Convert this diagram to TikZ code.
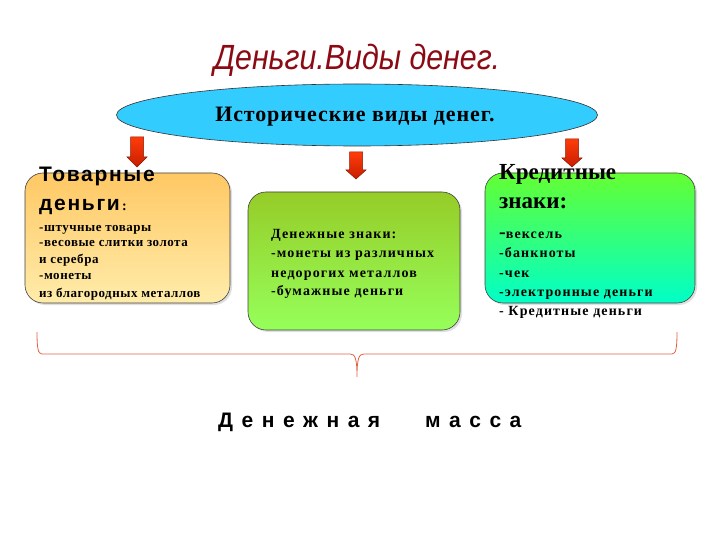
\documentclass[tikz,border=0pt]{standalone}
\usepackage{fontspec}
\usepackage{graphicx}
\setmainfont{Liberation Serif}
\newfontfamily\arialf{Liberation Sans}
\usetikzlibrary{shapes.geometric,shadows}
\definecolor{titlered}{RGB}{140,10,20}
\definecolor{ellblue}{RGB}{51,204,255}
\definecolor{lbtop}{RGB}{255,200,100}
\definecolor{lbbot}{RGB}{255,236,170}
\definecolor{mbtop}{RGB}{150,204,40}
\definecolor{mbbot}{RGB}{150,255,90}
\definecolor{rbtop}{RGB}{100,255,50}
\definecolor{rbbot}{RGB}{0,255,200}
\definecolor{arrred}{RGB}{255,60,10}
\definecolor{arrdark}{RGB}{200,30,0}
\definecolor{bracecol}{RGB}{225,100,70}
\newcommand\lgap{\hspace{8.5pt}}
\newcommand\blockarrow[4]{% x, ytop, yhead, ytip
  \draw[arrowshape] (#1-6.5,#2) -- (#1+6.5,#2) -- (#1+6.5,#3) -- (#1+10,#3)
     -- (#1,#4) -- (#1-10,#3) -- (#1-6.5,#3) -- cycle;}
\tikzset{
  box/.style={draw=black!75, line width=0.6pt, rounded corners=18pt,
     drop shadow={opacity=0.25, shadow xshift=2pt, shadow yshift=-2pt}},
  arrowshape/.style={draw=arrdark!70!black, line width=0.5pt, top color=arrred, bottom color=arrdark},
  small/.style={anchor=base west, inner sep=0pt, font=\fontsize{13}{14}\selectfont\bfseries\addfontfeature{LetterSpace=4}},
  mid/.style={anchor=base west, inner sep=0pt, font=\fontsize{14}{16}\selectfont\bfseries\addfontfeature{LetterSpace=8}},
  head/.style={anchor=base west, inner sep=0pt, font=\fontsize{23}{26}\selectfont\bfseries},
}
\begin{document}
\begin{tikzpicture}[x=1pt,y=-1pt]
\useasboundingbox (0,0) rectangle (720,540);
% title
\node[inner sep=0pt, anchor=base, text=titlered, font=\arialf\itshape\fontsize{35}{38}\selectfont] (title) at (357,70) {\scalebox{0.867}[1]{Деньги.Виды денег.}};
% ellipse
\node[ellipse, draw=black!80, line width=0.6pt, fill=ellblue, minimum width=481pt, minimum height=62pt, inner sep=0pt] (hist) at (357,115) {};
\node[inner sep=0pt, anchor=base, font=\fontsize{22}{24}\selectfont\bfseries\addfontfeature{LetterSpace=4}] (histt) at (355,122) {Исторические виды денег.};
% boxes
\node[box, top color=lbtop, bottom color=lbbot, minimum width=205pt, minimum height=130pt] (lb) at (127.5,238) {};
\node[box, top color=mbtop, bottom color=mbbot, minimum width=212pt, minimum height=138pt] (mb) at (354,261) {};
\node[box, top color=rbtop, bottom color=rbbot, minimum width=210pt, minimum height=130pt] (rb) at (590,238) {};
% arrows
\blockarrow{137}{137}{157}{167}
\blockarrow{356}{152}{170}{179}
\blockarrow{572}{139}{158}{167}
% left text
\node[anchor=base west, inner sep=0pt, font=\arialf\bfseries\fontsize{21}{24}\selectfont\addfontfeature{LetterSpace=8}] (l1) at (39,182) {Товарные};
\node[anchor=base west, inner sep=0pt, font=\arialf\bfseries\fontsize{21}{24}\selectfont\addfontfeature{LetterSpace=8}] (l2) at (39,211) {деньги{\rmfamily\fontsize{14}{14}\selectfont\,:}};
\node[small] (l3) at (39,231) {-штучные товары};
\node[small] (l4) at (39,247) {-весовые слитки золота};
\node[small] (l5) at (39,263) {и серебра};
\node[small] (l6) at (39,279) {-монеты};
\node[small] (l7) at (39,297) {из благородных металлов};
% middle text
\node[mid] (m1) at (271,238) {Денежные знаки:};
\node[mid] (m2) at (271,258) {-монеты из различных};
\node[mid] (m3) at (271,277) {недорогих металлов};
\node[mid] (m4) at (271,295) {-бумажные деньги};
% right text
\node[head] (r1) at (499,180) {Кредитные};
\node[head] (r2) at (499,208) {знаки:};
\node[mid] (r3) at (499,238) {{\fontsize{20}{20}\selectfont -}вексель};
\node[mid] (r4) at (499,258) {-банкноты};
\node[mid] (r5) at (499,277) {-чек};
\node[mid] (r6) at (499,296) {-электронные деньги};
\node[mid] (r7) at (499,315) {- Кредитные деньги};
% brace
\coordinate (bl) at (37,332);
\coordinate (br) at (677,332);
\coordinate (bt) at (357,377);
\draw[bracecol, line width=0.8pt] (bl) .. controls (37,348) and (38,354) .. (42,354)
  -- (350,354) .. controls (355,354) and (357,358) .. (bt)
  .. controls (357,358) and (359,354) .. (364,354)
  -- (672,354) .. controls (676,354) and (677,348) .. (br);
% bottom text
\node[inner sep=0pt, anchor=base west, font=\arialf\bfseries\fontsize{21}{24}\selectfont] (mass) at (218,427)
  {Д\lgap е\lgap н\lgap е\lgap ж\lgap н\lgap а\lgap я\hspace{45pt}м\lgap а\lgap с\lgap с\lgap а};
\end{tikzpicture}
\end{document}
